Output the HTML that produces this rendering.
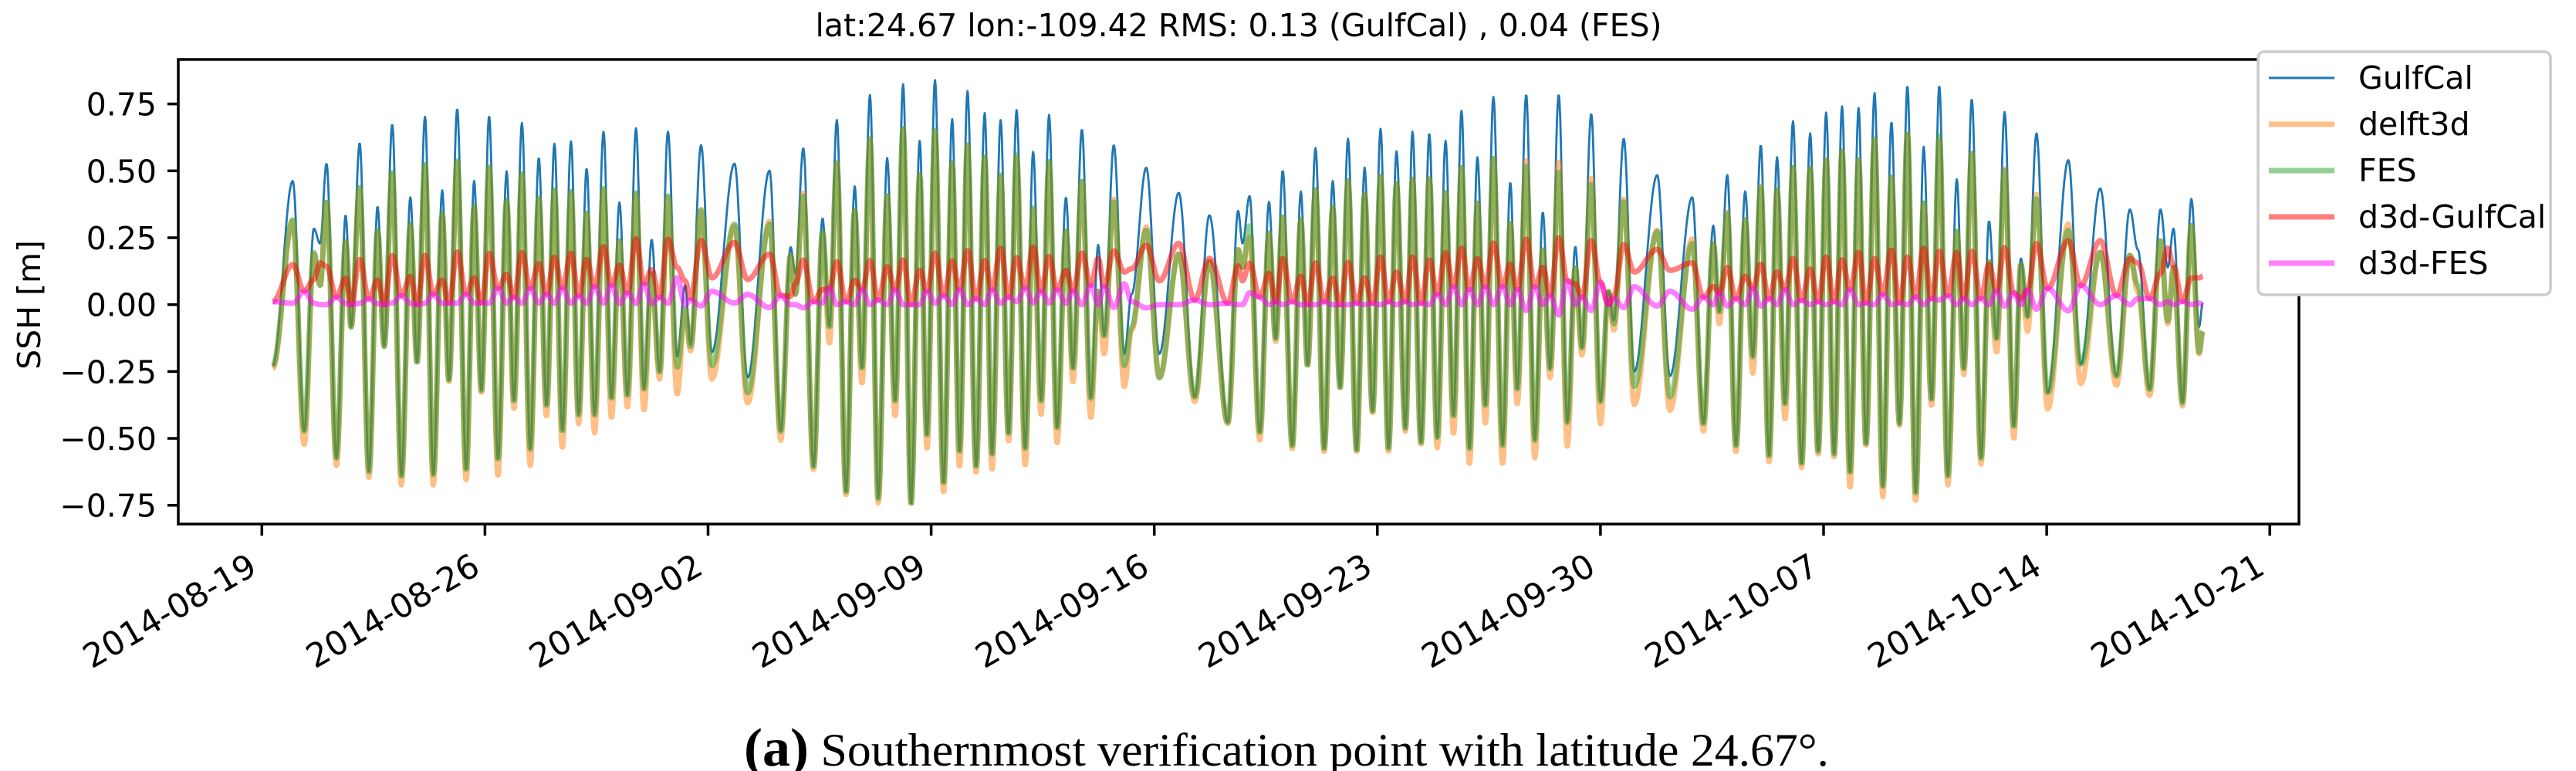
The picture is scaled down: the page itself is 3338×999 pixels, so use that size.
<!DOCTYPE html>
<html><head><meta charset="utf-8"><style>
html,body{margin:0;padding:0;background:#fff;}
svg{display:block;}
text{font-family:"DejaVu Sans","Liberation Sans",sans-serif;}
</style></head><body>
<svg id="chart" width="3338" height="999" viewBox="0 0 3338 999" xmlns="http://www.w3.org/2000/svg">
<rect x="0" y="0" width="3338" height="999" fill="#fff"/>
<text x="1605" y="47" font-size="41" text-anchor="middle">lat:24.67 lon:-109.42 RMS: 0.13 (GulfCal) , 0.04 (FES)</text>
<defs><clipPath id="plotclip"><rect x="231" y="77" width="2748" height="602"/></clipPath></defs>
<g id="series" clip-path="url(#plotclip)"></g>
<g id="axes"></g>
<text transform="translate(52,395) rotate(-90)" font-size="41" text-anchor="middle">SSH [m]</text>
<g>
<rect x="2926" y="67" width="379" height="315" rx="8" fill="#fff" stroke="#cccccc" stroke-width="3.5"/>
<line x1="2940" y1="101" x2="3025" y2="101" stroke="#1f77b4" stroke-width="3"/>
<text x="3056" y="115" font-size="41">GulfCal</text>
<line x1="2940" y1="161" x2="3025" y2="161" stroke="#ff7f0e" stroke-opacity="0.5" stroke-width="7"/>
<text x="3056" y="175" font-size="41">delft3d</text>
<line x1="2940" y1="221" x2="3025" y2="221" stroke="#2ca02c" stroke-opacity="0.5" stroke-width="7"/>
<text x="3056" y="235" font-size="41">FES</text>
<line x1="2940" y1="281" x2="3025" y2="281" stroke="#ff0000" stroke-opacity="0.5" stroke-width="7"/>
<text x="3056" y="295" font-size="41">d3d-GulfCal</text>
<line x1="2940" y1="341" x2="3025" y2="341" stroke="#ff00ff" stroke-opacity="0.5" stroke-width="7"/>
<text x="3056" y="355" font-size="41">d3d-FES</text>
</g>
<text x="964" y="992" font-size="60" textLength="1406" lengthAdjust="spacingAndGlyphs" style="font-family:'Liberation Serif',serif"><tspan font-weight="bold" font-size="70">(a)</tspan> Southernmost verification point with latitude 24.67°.</text>
</svg>
<script>
// extremum times in days since 2014-08-19
const times = [0.34,0.97,1.33,1.63,1.83,2.03,2.34,2.63,2.80,3.07,3.36,3.63,3.84,4.09,4.38,4.66,4.87,5.12,5.38,5.66,5.87,6.13,6.41,6.66,6.89,7.13,7.41,7.68,7.91,8.16,8.42,8.69,8.93,9.18,9.43,9.70,9.94,10.19,10.44,10.72,10.97,11.22,11.47,11.74,11.99,12.23,12.48,12.74,13.03,13.28,
13.45,13.78,14.12,14.83,15.24,15.93,16.28,16.59,16.74,16.99,17.31,17.59,17.81,18.04,18.33,18.60,18.83,19.08,19.34,19.62,19.87,20.12,20.37,20.64,20.87,21.12,21.39,21.66,21.89,22.14,22.41,22.68,22.91,23.18,23.43,23.68,23.95,24.20,24.45,24.70,24.95,25.23,25.45,25.73,26.01,26.24,
26.43,26.73,27.06,27.29,27.75,28.16,28.77,29.27,29.73,30.31,30.63,30.77,30.99,31.31,31.60,31.81,32.03,32.33,32.60,32.81,33.06,33.33,33.60,33.83,34.08,34.35,34.60,34.85,35.10,35.35,35.60,35.88,36.10,36.37,36.63,36.88,37.14,37.39,37.64,37.89,38.14,38.39,38.64,38.93,39.17,39.39,
39.67,39.94,40.19,40.42,40.69,40.96,41.21,41.42,41.71,42.00,42.25,42.42,42.73,43.06,43.78,44.18,44.88,45.23,45.54,45.73,45.98,46.25,46.54,46.78,47.03,47.29,47.54,47.79,48.04,48.31,48.58,48.83,49.08,49.33,49.58,49.83,50.10,50.33,50.60,50.86,51.13,51.38,51.63,51.89,52.14,52.39,
52.63,52.90,53.18,53.40,53.65,53.94,54.19,54.43,54.68,54.97,55.19,55.40,55.68,56.03,56.68,57.07,57.68,58.19,58.61,58.86,59.23,59.57,59.80,59.98,60.26,60.54,60.78,60.90];
const gulfcal = [-0.228,0.462,-0.473,0.284,0.228,0.527,-0.573,0.334,-0.084,0.604,-0.624,0.367,-0.156,0.674,-0.640,0.401,-0.217,0.702,-0.635,0.427,-0.284,0.732,-0.618,0.462,-0.323,0.705,-0.579,0.498,-0.362,0.679,-0.540,0.549,-0.379,0.601,-0.473,0.610,-0.412,0.509,-0.412,0.646,-0.351,0.382,-0.340,0.659,-0.317,0.243,-0.251,0.646,-0.195,0.072,
-0.150,0.596,-0.178,0.527,-0.273,0.501,-0.473,0.215,0.117,0.585,-0.607,0.323,-0.084,0.690,-0.702,0.442,-0.239,0.783,-0.724,0.548,-0.362,0.824,-0.746,0.612,-0.490,0.839,-0.668,0.693,-0.551,0.798,-0.607,0.716,-0.562,0.690,-0.484,0.727,-0.540,0.571,-0.362,0.709,-0.462,0.401,-0.239,0.655,-0.351,0.223,
-0.117,0.596,-0.184,0.039,0.512,-0.184,0.418,-0.345,0.334,-0.440,0.351,0.228,0.406,-0.479,0.384,-0.128,0.501,-0.529,0.423,-0.228,0.585,-0.540,0.462,-0.312,0.620,-0.546,0.512,-0.401,0.657,-0.540,0.573,-0.462,0.646,-0.518,0.640,-0.496,0.612,-0.418,0.724,-0.540,0.551,-0.379,0.776,-0.529,0.457,-0.317,
0.785,-0.507,0.345,-0.239,0.785,-0.440,0.217,-0.161,0.713,-0.362,0.050,-0.061,0.620,-0.251,0.484,-0.267,0.401,-0.445,0.295,-0.028,0.484,-0.529,0.423,-0.195,0.596,-0.568,0.551,-0.373,0.685,-0.596,0.640,-0.551,0.718,-0.562,0.741,-0.629,0.735,-0.523,0.791,-0.679,0.683,-0.445,0.818,-0.707,0.590,-0.356,
0.818,-0.640,0.468,-0.239,0.768,-0.573,0.312,-0.128,0.720,-0.457,0.173,-0.045,0.640,-0.329,0.540,-0.223,0.434,-0.267,0.356,0.206,-0.317,0.356,0.139,0.284,-0.367,0.395,-0.084,0.006];
const fes = [-0.228,0.317,-0.473,0.195,0.072,0.384,-0.573,0.239,-0.084,0.440,-0.624,0.278,-0.156,0.496,-0.640,0.301,-0.217,0.523,-0.635,0.340,-0.284,0.540,-0.618,0.367,-0.323,0.518,-0.579,0.390,-0.362,0.490,-0.540,0.401,-0.379,0.429,-0.473,0.423,-0.412,0.345,-0.412,0.434,-0.351,0.239,-0.340,0.418,-0.317,0.117,-0.251,0.406,-0.234,-0.017,
-0.156,0.351,-0.228,0.301,-0.329,0.301,-0.473,0.184,0.039,0.406,-0.607,0.273,-0.084,0.529,-0.702,0.351,-0.239,0.618,-0.724,0.406,-0.362,0.657,-0.746,0.484,-0.490,0.651,-0.668,0.529,-0.551,0.596,-0.607,0.551,-0.562,0.484,-0.484,0.562,-0.540,0.362,-0.362,0.535,-0.462,0.278,-0.239,0.462,-0.351,0.050,
-0.117,0.384,-0.228,-0.084,0.278,-0.273,0.189,-0.345,0.161,-0.440,0.206,0.139,0.295,-0.479,0.267,-0.128,0.329,-0.529,0.317,-0.228,0.429,-0.540,0.362,-0.312,0.462,-0.546,0.412,-0.401,0.479,-0.540,0.451,-0.462,0.468,-0.518,0.473,-0.496,0.418,-0.418,0.512,-0.540,0.379,-0.379,0.546,-0.529,0.306,-0.317,
0.518,-0.507,0.206,-0.239,0.496,-0.440,0.139,-0.161,0.451,-0.362,0.050,-0.072,0.384,-0.306,0.273,-0.345,0.228,-0.445,0.228,-0.028,0.340,-0.529,0.317,-0.195,0.440,-0.568,0.429,-0.373,0.512,-0.596,0.507,-0.551,0.540,-0.562,0.573,-0.629,0.540,-0.523,0.618,-0.679,0.479,-0.445,0.640,-0.707,0.379,-0.356,
0.635,-0.640,0.273,-0.239,0.568,-0.573,0.161,-0.128,0.501,-0.457,0.150,-0.045,0.395,-0.329,0.278,-0.223,0.195,-0.267,0.184,0.072,-0.317,0.239,-0.061,0.139,-0.367,0.295,-0.178,-0.100];
const delft3d = [-0.239,0.312,-0.523,0.190,0.072,0.384,-0.601,0.235,-0.084,0.435,-0.646,0.275,-0.156,0.490,-0.674,0.296,-0.217,0.518,-0.674,0.335,-0.290,0.535,-0.657,0.362,-0.330,0.513,-0.640,0.385,-0.390,0.485,-0.601,0.396,-0.418,0.424,-0.535,0.418,-0.445,0.340,-0.479,0.429,-0.423,0.235,-0.384,0.413,-0.395,0.112,-0.278,0.401,-0.334,-0.017,
-0.173,0.356,-0.278,0.295,-0.367,0.312,-0.507,0.184,0.039,0.418,-0.618,0.267,-0.145,0.529,-0.713,0.351,-0.295,0.618,-0.741,0.406,-0.418,0.657,-0.746,0.484,-0.540,0.646,-0.702,0.529,-0.607,0.596,-0.629,0.551,-0.618,0.479,-0.512,0.551,-0.601,0.356,-0.412,0.529,-0.518,0.273,-0.290,0.462,-0.423,0.050,
-0.184,0.395,-0.306,-0.095,0.290,-0.273,0.189,-0.362,0.161,-0.445,0.206,0.139,0.251,-0.507,0.267,-0.139,0.329,-0.540,0.317,-0.228,0.429,-0.551,0.362,-0.312,0.462,-0.551,0.412,-0.406,0.479,-0.551,0.451,-0.473,0.468,-0.523,0.473,-0.535,0.418,-0.484,0.512,-0.596,0.379,-0.445,0.546,-0.596,0.306,-0.373,
0.540,-0.573,0.206,-0.273,0.535,-0.529,0.139,-0.189,0.473,-0.445,0.050,-0.095,0.395,-0.373,0.278,-0.395,0.245,-0.473,0.228,-0.072,0.345,-0.551,0.317,-0.256,0.445,-0.590,0.429,-0.429,0.512,-0.612,0.507,-0.562,0.540,-0.573,0.573,-0.685,0.540,-0.529,0.618,-0.718,0.479,-0.451,0.640,-0.735,0.379,-0.379,
0.618,-0.674,0.273,-0.262,0.568,-0.596,0.161,-0.178,0.507,-0.501,0.150,-0.100,0.412,-0.390,0.301,-0.295,0.195,-0.301,0.184,0.050,-0.340,0.239,-0.072,0.139,-0.379,0.295,-0.184,-0.100];
const xTickDays = [0,7,14,21,28,35,42,49,56,63];
const xTickLabels = ["2014-08-19","2014-08-26","2014-09-02","2014-09-09","2014-09-16","2014-09-23","2014-09-30","2014-10-07","2014-10-14","2014-10-21"];
const yTicks = [-0.75,-0.5,-0.25,0,0.25,0.5,0.75];
const yTickLabels = ["\u22120.75","\u22120.50","\u22120.25","0.00","0.25","0.50","0.75"];

const NS="http://www.w3.org/2000/svg";
function xScale(d){return 339.3 + d*41.3;}
function yScale(v){return 394.7 - v*346.7;}
function interp(ts, vs, t){
  if(t<=ts[0]) return vs[0];
  for(let i=0;i<ts.length-1;i++){
    if(t<=ts[i+1]){const f=(t-ts[i])/(ts[i+1]-ts[i]);const w=(1-Math.cos(Math.PI*f))/2;return vs[i]+(vs[i+1]-vs[i])*w;}
  }
  return vs[vs.length-1];
}
function sample(fn){
  let pts=[];const t0=times[0],t1=times[times.length-1];
  for(let t=t0;t<=t1+1e-9;t+=0.02){pts.push(xScale(t).toFixed(1)+","+yScale(fn(t)).toFixed(1));}
  return "M"+pts.join("L");
}
const g=document.getElementById('series');
function addPath(d,color,op,w,name){
  const p=document.createElementNS(NS,'path');
  p.setAttribute('d',d);p.setAttribute('fill','none');p.setAttribute('stroke',color);
  p.setAttribute('stroke-opacity',op);p.setAttribute('stroke-width',w);p.setAttribute('stroke-linejoin','round');
  
  
  g.appendChild(p);
}
addPath(sample(t=>interp(times,gulfcal,t)),'#1f77b4',1,2.8,'gulfcal-line');
addPath(sample(t=>interp(times,delft3d,t)),'#ff7f0e',0.5,7,'delft3d-line');
addPath(sample(t=>interp(times,fes,t)),'#2ca02c',0.5,7,'fes-line');
addPath(sample(t=>interp(times,gulfcal,t)-interp(times,delft3d,t)),'#ff0000',0.5,7,'d3d-gulfcal-line');
addPath(sample(t=>interp(times,fes,t)-interp(times,delft3d,t)),'#ff00ff',0.5,7,'d3d-fes-line');

const ax=document.getElementById('axes');
const frame=document.createElementNS(NS,'rect');
frame.setAttribute('x',231);frame.setAttribute('y',77);frame.setAttribute('width',2748);frame.setAttribute('height',602);
frame.setAttribute('fill','none');frame.setAttribute('stroke','#000');frame.setAttribute('stroke-width',3.5);


ax.appendChild(frame);
yTicks.forEach((v,i)=>{
  const y=yScale(v);
  const l=document.createElementNS(NS,'line');
  l.setAttribute('x1',217);l.setAttribute('x2',231);l.setAttribute('y1',y);l.setAttribute('y2',y);
  l.setAttribute('stroke','#000');l.setAttribute('stroke-width',3.5);
  
  
  ax.appendChild(l);
  const t=document.createElementNS(NS,'text');
  t.setAttribute('x',203);t.setAttribute('y',y+15);t.setAttribute('font-size',41);t.setAttribute('text-anchor','end');
  t.textContent=yTickLabels[i];
  
  
  ax.appendChild(t);
});
xTickDays.forEach((d,i)=>{
  const x=xScale(d);
  const l=document.createElementNS(NS,'line');
  l.setAttribute('x1',x);l.setAttribute('x2',x);l.setAttribute('y1',679);l.setAttribute('y2',694);
  l.setAttribute('stroke','#000');l.setAttribute('stroke-width',3.5);
  
  
  ax.appendChild(l);
  const t=document.createElementNS(NS,'text');
  t.setAttribute('transform','translate('+(x-4)+',742) rotate(-30)');
  t.setAttribute('font-size',43);t.setAttribute('text-anchor','end');
  t.textContent=xTickLabels[i];
  
  
  ax.appendChild(t);
});
</script>
</body></html>
